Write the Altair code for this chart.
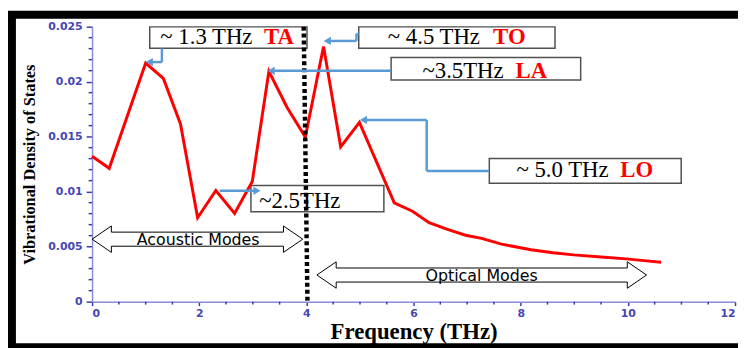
import altair as alt
import pandas as pd

# ---- main curve ----
freq = [0, 0.32, 1.0, 1.33, 1.65, 1.97, 2.31, 2.66, 2.99, 3.30, 3.64, 3.98, 4.32, 4.64,
        4.99, 5.64, 5.98, 6.29, 6.62, 6.97, 7.27, 7.64, 8.19, 8.6, 8.99, 9.5, 9.97, 10.3, 10.62]
dos = [0.01322, 0.01212, 0.02169, 0.02029, 0.01616, 0.00763, 0.01011, 0.00802, 0.01092,
       0.02094, 0.01765, 0.01496, 0.02319, 0.01406, 0.0163, 0.00898, 0.00822, 0.00718,
       0.0066, 0.00604, 0.00575, 0.00523, 0.00472, 0.00445, 0.00425, 0.00405, 0.00389,
       0.00373, 0.00359]

# ---- axis ticks ----
x_major = [0, 2, 4, 6, 8, 10, 12]
x_minor = [0.5, 1, 1.5, 2.5, 3, 3.5, 4.5, 5, 5.5, 6.5, 7, 7.5, 8.5, 9, 9.5, 10.5, 11, 11.5]
y_major = [0, 0.005, 0.01, 0.015, 0.02, 0.025]
y_minor = [0.001, 0.002, 0.003, 0.004, 0.006, 0.007, 0.008, 0.009, 0.011, 0.012, 0.013,
           0.014, 0.016, 0.017, 0.018, 0.019, 0.021, 0.022, 0.023, 0.024]

# ---- annotation boxes ----
box_x = [1.076, 4.977, 5.581, 7.414, 2.965]
box_x2 = [4.011, 8.640, 9.119, 10.995, 5.446]
box_y = [0.02304, 0.02304, 0.02016, 0.01077, 0.00817]
box_y2 = [0.02498, 0.02498, 0.0222, 0.01302, 0.01056]

# black text parts (left aligned)
lab_text = ["~ 1.3 THz", "~ 4.5 THz", "~3.5THz", "~ 5.0 THz", "~2.5THz"]
lab_x = [1.274, 5.520, 6.166, 7.920, 3.120]
lab_y = [0.02343, 0.02346, 0.02029, 0.01137, 0.00853]
# red mode names (right aligned)
mode_text = ["TA", "TO", "LA", "LO"]
mode_x = [3.766, 8.091, 8.492, 10.473]
mode_y = [0.02343, 0.02346, 0.02029, 0.01137]

# ---- blue arrows: segments and heads ----
seg_x = [1.303, 1.303, 4.977, 4.934, 4.934, 5.581, 7.414, 6.245, 6.245, 2.381]
seg_y = [0.02302, 0.02178, 0.02433, 0.02433, 0.0237, 0.02099, 0.01188, 0.01188, 0.01652, 0.01008]
seg_x2 = [1.303, 1.06, 4.934, 4.934, 4.38, 3.33, 6.245, 6.245, 5.05, 3.09]
seg_y2 = [0.02178, 0.02178, 0.02433, 0.0237, 0.0237, 0.02099, 0.01188, 0.01652, 0.01652, 0.01008]
head_x = [1.068, 4.39, 3.343, 5.065, 3.078]
head_y = [0.02178, 0.0237, 0.02099, 0.01652, 0.01008]
head_shape = ["triangle-left", "triangle-left", "triangle-left", "triangle-left", "triangle-right"]

# ---- double block arrows (Acoustic / Optical) ----
da_name = ["Acoustic Modes", "Optical Modes"]
da_x0 = [0.0, 4.196]
da_x1 = [3.932, 10.349]
da_yc = [0.00568, 0.00242]
da_text_x = [1.98, 7.27]
head_len = 0.36
head_half = 0.0012
shaft_half = 0.00064

poly_rows = []
for name, x0, x1, yc in zip(da_name, da_x0, da_x1, da_yc):
    pts = [(x0, yc), (x0 + head_len, yc + head_half), (x0 + head_len, yc + shaft_half),
           (x1 - head_len, yc + shaft_half), (x1 - head_len, yc + head_half), (x1, yc),
           (x1 - head_len, yc - head_half), (x1 - head_len, yc - shaft_half),
           (x0 + head_len, yc - shaft_half), (x0 + head_len, yc - head_half), (x0, yc)]
    for i, (px, py) in enumerate(pts):
        poly_rows.append({"name": name, "i": i, "x": px, "y": py})

curve_df = pd.DataFrame({"freq": freq, "dos": dos})
box_df = pd.DataFrame({"x": box_x, "x2": box_x2, "y": box_y, "y2": box_y2})
lab_df = pd.DataFrame({"t": lab_text, "x": lab_x, "y": lab_y})
mode_df = pd.DataFrame({"t": mode_text, "x": mode_x, "y": mode_y})
seg_df = pd.DataFrame({"x": seg_x, "y": seg_y, "x2": seg_x2, "y2": seg_y2})
head_df = pd.DataFrame({"x": head_x, "y": head_y, "shape": head_shape})
poly_df = pd.DataFrame(poly_rows)
datext_df = pd.DataFrame({"t": da_name, "x": da_text_x, "y": da_yc})
vline_df = pd.DataFrame({"x": [3.95], "x2": [4.02], "y": [0.025], "y2": [0.0]})
xminor_df = pd.DataFrame({"v": x_minor})
yminor_df = pd.DataFrame({"v": y_minor})

W, H = 650, 278
xs = alt.Scale(domain=[0, 12], nice=False, zero=False)
ys = alt.Scale(domain=[0, 0.025], nice=False)
TICK = "#3c3ca8"

x_axis = alt.Axis(
    values=x_major, labelExpr="toString(datum.value)", labelOverlap=False,
    tickSize=4, grid=False, domainColor="#8c8cd8", domainWidth=1.5, tickColor=TICK,
    tickWidth=1.5, labelFont="DejaVu Sans", labelFontSize=11, labelColor="#4646b4",
    labelPadding=2, labelFontWeight="bold",
    title="Frequency (THz)", titleFont="Liberation Serif", titleFontWeight="bold",
    titleFontSize=23, titleColor="black", titleY=37, titleBaseline="alphabetic",
)
y_axis = alt.Axis(
    values=y_major, labelExpr="toString(round(datum.value*1000)/1000)", labelOverlap=False,
    tickSize=6, grid=False, domainColor="#8c8cd8", domainWidth=1.5, tickColor=TICK,
    tickWidth=1.5, labelFont="DejaVu Sans", labelFontSize=11, labelColor="#4646b4",
    labelPadding=4, labelFontWeight="bold",
    title="Vibrational Density of States", titleFont="Liberation Serif",
    titleFontWeight="bold", titleFontSize=16.5, titleColor="black",
    titleX=-58, titleY=H / 2, titleBaseline="alphabetic", titleAngle=270,
)

frame = alt.Chart(pd.DataFrame({"a": [0]})).mark_rect(
    filled=False, stroke="black", strokeWidth=8, clip=False
).encode(
    x=alt.value(-81), x2=alt.value(W + 40), y=alt.value(-12), y2=alt.value(324)
)

boxes = alt.Chart(box_df).mark_rect(fill="white", stroke="#505050", strokeWidth=1.5).encode(
    x=alt.X("x:Q", scale=xs, axis=x_axis), x2="x2:Q",
    y=alt.Y("y:Q", scale=ys, axis=y_axis), y2="y2:Q",
)

xminor = alt.Chart(xminor_df).mark_rule(color=TICK, strokeWidth=1.5).encode(
    x=alt.X("v:Q", scale=xs), y=alt.value(H), y2=alt.value(H + 3)
)
yminor = alt.Chart(yminor_df).mark_rule(color=TICK, strokeWidth=1.5).encode(
    y=alt.Y("v:Q", scale=ys), x=alt.value(0), x2=alt.value(-3.5)
)

polys = alt.Chart(poly_df).mark_line(color="black", strokeWidth=1, strokeJoin="miter").encode(
    x=alt.X("x:Q", scale=xs), y=alt.Y("y:Q", scale=ys), detail="name:N", order="i:Q"
)

datext = alt.Chart(datext_df).mark_text(
    font="DejaVu Sans", fontSize=16, color="black", baseline="middle", align="center", dy=1
).encode(x=alt.X("x:Q", scale=xs), y=alt.Y("y:Q", scale=ys), text="t:N")

curve = alt.Chart(curve_df).mark_line(color="#ff0000", strokeWidth=3).encode(
    x=alt.X("freq:Q", scale=xs), y=alt.Y("dos:Q", scale=ys)
)

vline = alt.Chart(vline_df).mark_rule(color="black", strokeWidth=4.5, strokeDash=[4, 3]).encode(
    x=alt.X("x:Q", scale=xs), x2="x2:Q", y=alt.Y("y:Q", scale=ys), y2="y2:Q"
)

segs = alt.Chart(seg_df).mark_rule(color="#5b9bd5", strokeWidth=2.5).encode(
    x=alt.X("x:Q", scale=xs), x2="x2:Q", y=alt.Y("y:Q", scale=ys), y2="y2:Q"
)

heads = alt.Chart(head_df).mark_point(filled=True, color="#5b9bd5", size=70, opacity=1).encode(
    x=alt.X("x:Q", scale=xs), y=alt.Y("y:Q", scale=ys),
    shape=alt.Shape("shape:N", scale=None, legend=None),
)

labs = alt.Chart(lab_df).mark_text(
    font="Liberation Serif", fontSize=23, color="black", align="left", baseline="alphabetic"
).encode(x=alt.X("x:Q", scale=xs), y=alt.Y("y:Q", scale=ys), text="t:N")

modes = alt.Chart(mode_df).mark_text(
    font="Liberation Serif", fontSize=23, fontWeight="bold", color="#ff0000",
    align="right", baseline="alphabetic"
).encode(x=alt.X("x:Q", scale=xs), y=alt.Y("y:Q", scale=ys), text="t:N")

chart = alt.layer(
    frame, boxes, xminor, yminor, polys, datext, curve, vline, segs, heads, labs, modes
).properties(
    width=W, height=H,
    autosize=alt.AutoSizeParams(type="none"),
    padding={"left": 85, "top": 17, "right": 3, "bottom": 45},
    background="white",
).configure_view(stroke=None)

chart.save("out.html", embed_options={"renderer": "svg", "actions": False})
